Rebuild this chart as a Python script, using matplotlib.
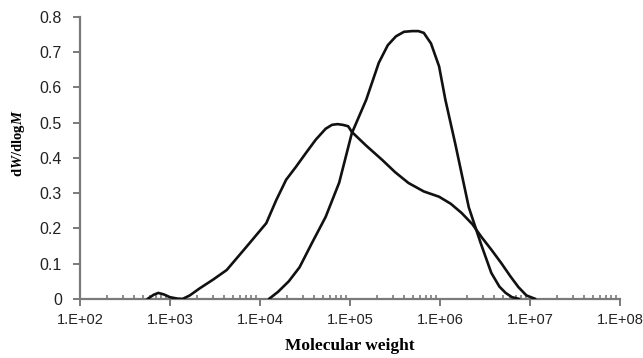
import matplotlib
matplotlib.use("Agg")
import matplotlib.pyplot as plt
from matplotlib.ticker import LogLocator, FixedLocator, FixedFormatter
import numpy as np

# sample 1: narrow distribution (log10 M vs dW/dlogM)
logm_a = [4.10, 4.20, 4.32, 4.44, 4.58, 4.73, 4.88, 5.02, 5.18, 5.32, 5.42,
          5.51, 5.60, 5.69, 5.76, 5.82, 5.90, 5.99, 6.06, 6.17, 6.32, 6.45,
          6.57, 6.66, 6.73, 6.80, 6.88]
dw_a = [0.000, 0.020, 0.050, 0.090, 0.160, 0.233, 0.330, 0.470, 0.565, 0.670,
        0.720, 0.745, 0.758, 0.760, 0.760, 0.755, 0.725, 0.660, 0.565, 0.440,
        0.260, 0.160, 0.074, 0.035, 0.017, 0.005, 0.000]

# sample 2: broad distribution
logm_b = [2.75, 2.82, 2.87, 2.93, 3.00, 3.08, 3.14, 3.22, 3.33, 3.48, 3.63,
          3.85, 4.07, 4.18, 4.29, 4.40, 4.51, 4.62, 4.73, 4.80, 4.86, 4.92,
          4.98, 5.02, 5.18, 5.36, 5.50, 5.65, 5.82, 5.99, 6.12, 6.24, 6.36,
          6.46, 6.57, 6.68, 6.78, 6.87, 6.96, 7.06]
dw_b = [0.000, 0.012, 0.017, 0.013, 0.005, 0.001, 0.000, 0.010, 0.030, 0.055,
        0.082, 0.148, 0.215, 0.280, 0.338, 0.375, 0.414, 0.452, 0.483, 0.494,
        0.496, 0.494, 0.490, 0.474, 0.435, 0.394, 0.360, 0.329, 0.305, 0.290,
        0.270, 0.244, 0.212, 0.176, 0.140, 0.102, 0.065, 0.034, 0.010, 0.000]

yticks = [0, 0.1, 0.2, 0.3, 0.4, 0.5, 0.6, 0.7, 0.8]
ytick_labels = ['0', '0.1', '0.2', '0.3', '0.4', '0.5', '0.6', '0.7', '0.8']
xticks = [1e2, 1e3, 1e4, 1e5, 1e6, 1e7, 1e8]
xtick_labels = ['1.E+02', '1.E+03', '1.E+04', '1.E+05', '1.E+06', '1.E+07', '1.E+08']

plt.rcParams['font.family'] = ['Liberation Sans', 'DejaVu Sans']
plt.rcParams['mathtext.fontset'] = 'custom'
plt.rcParams['mathtext.bf'] = 'Liberation Serif:bold'
plt.rcParams['mathtext.it'] = 'Liberation Serif:bold:italic'
plt.rcParams['mathtext.rm'] = 'Liberation Serif'

fig = plt.figure(figsize=(6.43, 3.58), dpi=100)
ax = fig.add_axes([0.1244, 0.165, 0.8398, 0.7875])

line_kw = dict(color='#111111', linewidth=1.9, solid_joinstyle='round',
               solid_capstyle='round')
ax.plot(10 ** np.array(logm_a), dw_a, **line_kw)
ax.plot(10 ** np.array(logm_b), dw_b, **line_kw)

ax.set_xscale('log')
ax.set_xlim(1e2, 1e8)
ax.set_ylim(0, 0.8)

axis_grey = '#7a7a7a'
for side in ['top', 'right']:
    ax.spines[side].set_visible(False)
for side in ['left', 'bottom']:
    ax.spines[side].set_color(axis_grey)
    ax.spines[side].set_linewidth(1.6)
ax.spines['bottom'].set_zorder(1)

ax.xaxis.set_major_locator(FixedLocator(xticks))
ax.xaxis.set_major_formatter(FixedFormatter(xtick_labels))
ax.xaxis.set_minor_locator(LogLocator(base=10, subs=np.arange(2, 10), numticks=20))
ax.set_yticks(yticks)
ax.set_yticklabels(ytick_labels)

ax.tick_params(axis='x', which='major', direction='out', length=5, width=1.4,
               color=axis_grey, labelsize=10.5, pad=5)
ax.tick_params(axis='x', which='minor', direction='in', length=3, width=1.2,
               color=axis_grey)
ax.tick_params(axis='y', which='major', direction='out', length=5, width=1.4,
               color=axis_grey, labelsize=11.5, pad=8)
ax.tick_params(labelcolor='#222222')

ax.set_xlabel('Molecular weight', family='Liberation Serif', fontweight='bold',
              fontsize=12.5, labelpad=8)
ax.set_ylabel(r'$\mathbf{d}\mathit{W}\mathbf{/dlog}\mathit{M}$', fontsize=10.5)
ax.yaxis.set_label_coords(-0.099, 0.553)

fig.savefig('out.png', dpi=100, facecolor='white')
